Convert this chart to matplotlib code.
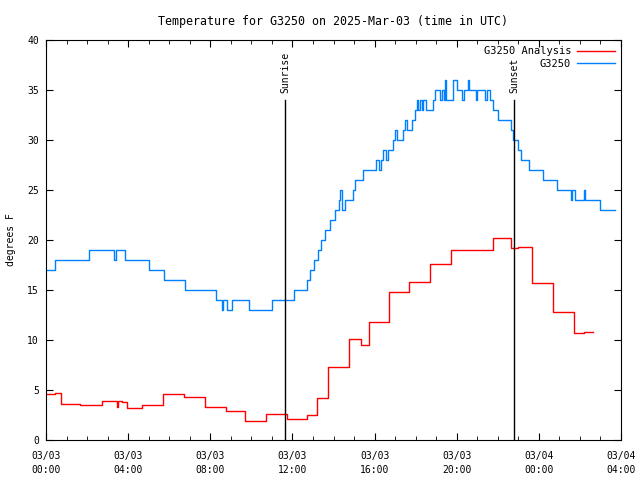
import matplotlib
matplotlib.use('Agg')
import matplotlib.pyplot as plt
from matplotlib.ticker import MultipleLocator

plt.rcParams['font.family'] = ['DejaVu Sans Mono']
plt.rcParams['font.size'] = 7

# Temperatura stacji (godziny od 03/03 00:00 UTC, stopnie F), schodkowo
obs_t = [0.00, 0.44, 2.09, 3.31, 3.40, 3.85, 5.02, 5.75, 6.77, 8.26, 8.56, 8.63,
         8.80, 9.07, 9.89, 10.99, 12.08, 12.69, 12.85, 13.05, 13.25, 13.38, 13.59,
         13.83, 14.07, 14.28, 14.32, 14.40, 14.56, 14.93, 15.05, 15.45, 16.07,
         16.20, 16.33, 16.40, 16.56, 16.67, 16.88, 17.01, 17.11, 17.40, 17.48,
         17.56, 17.81, 17.97, 18.05, 18.13, 18.21, 18.29, 18.37, 18.50, 18.83,
         18.94, 19.18, 19.28, 19.36, 19.44, 19.50, 19.80, 20.00, 20.24, 20.35,
         20.56, 20.62, 20.92, 21.00, 21.38, 21.48, 21.62, 21.75, 22.00, 22.62,
         22.76, 23.00, 23.12, 23.53, 24.22, 24.87, 25.55, 25.61, 25.77, 26.20,
         26.26, 27.00, 27.71]
obs_v = [17, 18, 19, 18, 19, 18, 17, 16, 15, 14, 13, 14,
         13, 14, 13, 14, 15, 16, 17, 18, 19, 20, 21,
         22, 23, 24, 25, 23, 24, 25, 26, 27, 28,
         27, 28, 29, 28, 29, 30, 31, 30, 31, 32,
         31, 32, 33, 34, 33, 34, 33, 34, 33, 34,
         35, 34, 35, 34, 36, 34, 36, 35, 34, 35,
         36, 35, 34, 35, 34, 35, 34, 33, 32, 31,
         30, 29, 28, 27, 26, 25, 24, 25, 24, 25,
         24, 23, 23]

# Analiza
ana_t = [0.03, 0.44, 0.72, 1.66, 2.71, 3.44, 3.52, 3.70, 3.96, 4.67, 5.71, 6.72,
         7.73, 8.75, 9.70, 10.70, 11.72, 12.69, 13.18, 13.75, 14.77, 15.21, 15.32,
         15.73, 16.72, 17.69, 18.70, 19.74, 21.75, 22.64, 23.00, 23.67, 24.70,
         25.71, 26.20, 26.65]
ana_v = [4.6, 4.7, 3.6, 3.5, 3.9, 3.3, 3.9, 3.8, 3.2, 3.5, 4.6, 4.3,
         3.3, 2.9, 1.9, 2.6, 2.1, 2.5, 4.2, 7.3, 10.1, 10.1, 9.5,
         11.8, 14.8, 15.8, 17.6, 19.0, 20.2, 19.2, 19.3, 15.7, 12.8,
         10.7, 10.8, 10.8]

sun_t = [11.64, 22.79]
sun_labels = ['Sunrise', 'Sunset']

x_ticks = [0, 4, 8, 12, 16, 20, 24, 28]
x_labels = ['03/03\n00:00', '03/03\n04:00', '03/03\n08:00', '03/03\n12:00',
            '03/03\n16:00', '03/03\n20:00', '03/04\n00:00', '03/04\n04:00']

fig = plt.figure(figsize=(6.4, 4.8), dpi=100)
ax = fig.add_axes([46 / 640, 40 / 480, 575 / 640, 400 / 480])

ax.plot(ana_t, ana_v, drawstyle='steps-post', color='#ff0000', lw=1, label='G3250 Analysis')
ax.plot(obs_t, obs_v, drawstyle='steps-post', color='#0080ff', lw=1, label='G3250')

for t, lab in zip(sun_t, sun_labels):
    ax.plot([t, t], [0, 34], color='black', lw=1)
    ax.text(t, 34.7, lab, rotation=90, ha='center', va='bottom')

ax.set_xlim(0, 28)
ax.set_ylim(0, 40)
ax.set_xticks(x_ticks)
ax.set_xticklabels(x_labels, linespacing=1.5)
ax.xaxis.set_minor_locator(MultipleLocator(1))
ax.yaxis.set_major_locator(MultipleLocator(5))
ax.tick_params(direction='in', top=True, right=True, which='both', length=5)
ax.tick_params(which='minor', length=3)
ax.tick_params(axis='x', pad=8)
ax.tick_params(axis='y', pad=5)
ax.set_ylabel('degrees F')
ax.yaxis.set_label_coords(-0.052, 0.5)
ax.set_title('Temperature for G3250 on 2025-Mar-03 (time in UTC)', pad=11)

leg = ax.legend(loc='upper right', frameon=False, markerfirst=False, fontsize=7.5,
                handlelength=3.6, borderaxespad=0.2, labelspacing=0.25, handletextpad=0.6)
for txt in leg.get_texts():
    txt.set_ha('right')

plt.savefig('out.png', dpi=100)
plt.close()
